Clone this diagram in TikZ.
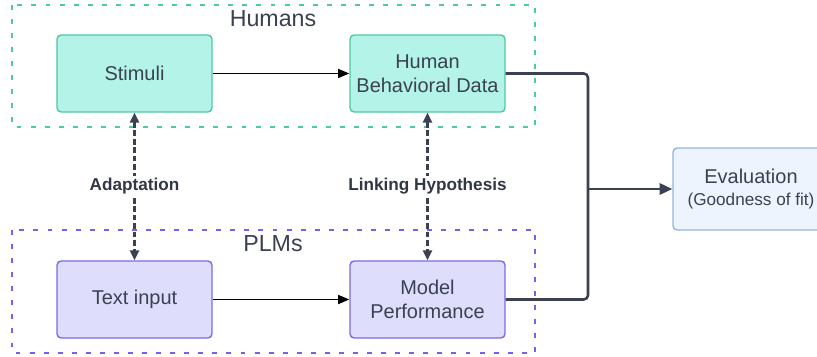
\documentclass[tikz,border=0pt]{standalone}
\usepackage{fontspec}
\setmainfont{Liberation Sans}
\definecolor{humfill}{HTML}{B4F3E7}
\definecolor{humline}{HTML}{4FC9A3}
\definecolor{plmfill}{HTML}{DEDEFC}
\definecolor{plmline}{HTML}{7B6BE6}
\definecolor{plmdash}{HTML}{7D5CF0}
\definecolor{evalfill}{HTML}{EDF4FE}
\definecolor{evalline}{HTML}{93B6DE}
\definecolor{ink}{HTML}{3A4150}
\usetikzlibrary{calc, arrows.meta}

\begin{document}
\begin{tikzpicture}[x=0.025cm, y=-0.025cm,
  box/.style={rounded corners=3pt, line width=1pt, minimum width=3.875cm, minimum height=1.925cm,
    align=center, text=ink, font=\fontsize{14.2}{17}\selectfont},
  group/.style={line width=1.4pt, dash pattern=on 3.5pt off 6.5pt},
  title/.style={text=ink, font=\fontsize{16.5}{19}\selectfont},
  flow/.style={line width=1pt, -{Triangle[length=8pt, width=6.5pt]}},
  link/.style={ink, line width=1.5pt, dash pattern=on 4pt off 2pt,
    {Triangle[length=7pt, width=6.5pt]}-{Triangle[length=7pt, width=6.5pt]}},
  tag/.style={fill=white, text=ink!85!black, font=\fontsize{12.2}{14}\selectfont\bfseries, inner sep=2pt},
  feed/.style={ink, line width=1.8pt, rounded corners=3pt}]
  \useasboundingbox (0,0) rectangle (817,356);

  % Groups
  \draw[group, humline] (12,5) rectangle (535,127);
  \node[title] (humans) at (273,19) {Humans};
  \draw[group, plmdash] (12,230) rectangle (535,353);
  \node[title] (plms) at (273,244) {PLMs};

  % Boxes
  \node[box, draw=humline, fill=humfill] (stimuli) at (134.5,73.5) {Stimuli};
  \node[box, draw=humline, fill=humfill] (hbd) at (427.5,73.5) {Human\\Behavioral Data};
  \node[box, draw=plmline, fill=plmfill] (text) at (134.5,299.5) {Text input};
  \node[box, draw=plmline, fill=plmfill] (model) at (427.5,299.5) {Model\\Performance};
  \node[box, draw=evalline, fill=evalfill, minimum width=3.9cm, minimum height=2.05cm] (eval) at (751,189)
    {Evaluation\\[-1pt]{\fontsize{12.2}{14}\selectfont(Goodness of fit)}};

  % Arrows
  \draw[flow] (stimuli) -- (hbd);
  \draw[flow] (text) -- (model);
  \draw[link] (stimuli) -- node[tag] (adapt) {Adaptation} (text);
  \draw[link] (hbd) -- node[tag] (linking) {Linking Hypothesis} (model);

  \coordinate (merge) at (588,189);
  \draw[feed] (hbd.east) -| (merge);
  \draw[feed] (model.east) -| (merge);
  \draw[feed, -{Triangle[length=9pt, width=8pt]}] (merge) -- (eval.west);
\end{tikzpicture}
\end{document}
